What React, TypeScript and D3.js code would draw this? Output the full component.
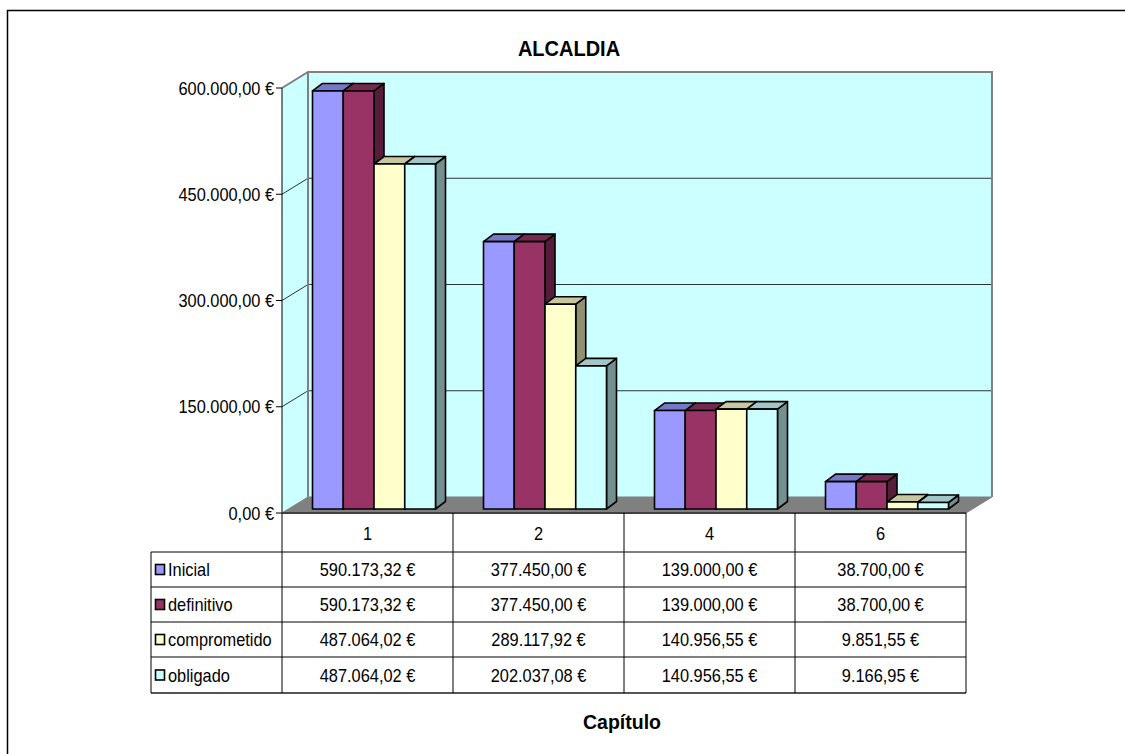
import React from "react";
import * as d3 from "d3";

const categories = ["1", "2", "4", "6"];
const seriesNames = ["Inicial", "definitivo", "comprometido", "obligado"];
const inicial = [590173.32, 377450.0, 139000.0, 38700.0];
const definitivo = [590173.32, 377450.0, 139000.0, 38700.0];
const comprometido = [487064.02, 289117.92, 140956.55, 9851.55];
const obligado = [487064.02, 202037.08, 140956.55, 9166.95];
const seriesColors = ["#9999FF", "#993366", "#FFFFCC", "#CCFFFF"];
const yTicks = [0, 150000, 300000, 450000, 600000];

const allSeries = [inicial, definitivo, comprometido, obligado];

const locale = d3.formatLocale({
  decimal: ",",
  thousands: ".",
  grouping: [3],
  currency: ["", " €"],
});
const fmt = (v: number) => locale.format(",.2f")(v) + " €";

const FONT = "'Liberation Sans', Arial, sans-serif";

function T(props: {
  x: number;
  y: number;
  size: number;
  sx?: number;
  anchor?: "start" | "middle" | "end";
  bold?: boolean;
  children: React.ReactNode;
}) {
  const sx = props.sx ?? 0.91;
  return (
    <text
      transform={`translate(${props.x},${props.y}) scale(${sx},1)`}
      textAnchor={props.anchor ?? "start"}
      fontSize={props.size}
      fontWeight={props.bold ? "bold" : "normal"}
      fill="#000"
    >
      {props.children}
    </text>
  );
}

export default function App() {
  const W = 1125;
  const H = 754;
  const x = d3.scaleBand().domain(categories).range([282, 966]);
  const y = d3.scaleLinear().domain([0, 600000]).range([513, 88]);
  const bw = x.bandwidth();
  const inner = d3.scaleBand().domain(seriesNames).range([24, bw - 24]);
  const WDX = 26;
  const WDY = 16;
  const FX = 6.5;
  const FY = 4;
  const BDX = 10;
  const BDY = 7.5;

  const x0 = 282;
  const x1 = 966;
  const yBase = y(0);
  const yTop = y(600000);

  const bars: React.ReactNode[] = [];
  categories.forEach((cat, ci) => {
    seriesNames.forEach((s, si) => {
      const v = allSeries[si][ci];
      const bx0 = (x(cat) as number) + (inner(s) as number) + FX;
      const bx1 = bx0 + inner.bandwidth();
      const top = y(v) - FY;
      const bot = yBase - FY;
      const c = d3.color(seriesColors[si])!;
      const topC = c.darker(0.7).formatHex();
      const sideC = c.darker(1.6).formatHex();
      bars.push(
        <g key={cat + s} stroke="#000" strokeWidth={1.6} strokeLinejoin="round">
          <polygon
            points={`${bx1},${top} ${bx1 + BDX},${top - BDY} ${bx1 + BDX},${bot - BDY} ${bx1},${bot}`}
            fill={sideC}
          />
          <polygon
            points={`${bx0},${top} ${bx0 + BDX},${top - BDY} ${bx1 + BDX},${top - BDY} ${bx1},${top}`}
            fill={topC}
          />
          <rect x={bx0} y={top} width={bx1 - bx0} height={bot - top} fill={seriesColors[si]} />
        </g>
      );
    });
  });

  const rowLines = [552, 587, 622, 657, 693];
  const rowCenters = rowLines.slice(0, 4).map((v, i) => (v + rowLines[i + 1]) / 2);
  const colEdges = [...categories.map((c) => x(c) as number), x1];

  return (
    <svg
      width={W}
      height={H}
      style={{ position: "absolute", left: 0, top: 0, background: "#fff" }}
      fontFamily={FONT}
    >
      <path d={`M7.5,${H} L7.5,10.5 L${W},10.5`} fill="none" stroke="#000" strokeWidth={1.5} />

      <T x={569} y={56} size={21.5} sx={0.93} anchor="middle" bold>
        ALCALDIA
      </T>

      <polygon
        points={`${x0},${yTop} ${x0 + WDX},${yTop - WDY} ${x0 + WDX},${yBase - WDY} ${x0},${yBase}`}
        fill="#CCFFFF"
      />
      <rect x={x0 + WDX} y={yTop - WDY} width={x1 - x0} height={yBase - yTop} fill="#CCFFFF" />
      {yTicks.slice(1, 4).map((t) => (
        <g key={"g" + t} stroke="#000" strokeWidth={0.8} fill="none">
          <line x1={x0} y1={y(t)} x2={x0 + WDX} y2={y(t) - WDY} />
          <line x1={x0 + WDX} y1={y(t) - WDY} x2={x1 + WDX} y2={y(t) - WDY} />
        </g>
      ))}
      <path
        d={`M${x0},${yTop} L${x0 + WDX},${yTop - WDY} L${x1 + WDX},${yTop - WDY} L${x1 + WDX},${yBase - WDY} M${x0 + WDX},${yTop - WDY} L${x0 + WDX},${yBase - WDY}`}
        fill="none"
        stroke="#808080"
        strokeWidth={2}
      />
      <polygon
        points={`${x0},${yBase} ${x0 + WDX},${yBase - WDY} ${x1 + WDX},${yBase - WDY} ${x1},${yBase}`}
        fill="#808080"
        stroke="#808080"
        strokeWidth={1}
      />

      {bars}

      <line x1={x0} y1={yTop} x2={x0} y2={yBase} stroke="#000" strokeWidth={1} />
      {yTicks.map((t) => (
        <g key={"t" + t}>
          <line x1={x0 - 6} y1={y(t)} x2={x0} y2={y(t)} stroke="#000" strokeWidth={1} />
          <T x={274} y={y(t) + 6.5} size={18} anchor="end">
            {fmt(t)}
          </T>
        </g>
      ))}

      <g stroke="#000" strokeWidth={1}>
        <line x1={x0} y1={yBase} x2={x1} y2={yBase} strokeWidth={2} stroke="#404040" />
        {rowLines.map((ry, i) => (
          <line
            key={"r" + ry}
            x1={151}
            y1={ry}
            x2={x1}
            y2={ry}
            stroke={i === rowLines.length - 1 ? "#555" : "#000"}
            strokeWidth={i === rowLines.length - 1 ? 2 : 1}
          />
        ))}
        {colEdges.map((cx) => (
          <line key={"c" + cx} x1={cx} y1={yBase} x2={cx} y2={693} />
        ))}
        <line x1={151} y1={552} x2={151} y2={693} />
      </g>
      {categories.map((c) => (
        <T key={"h" + c} x={(x(c) as number) + bw / 2} y={540} size={18} anchor="middle">
          {c}
        </T>
      ))}
      {seriesNames.map((s, si) => (
        <g key={"row" + s}>
          <rect
            x={155.5}
            y={rowCenters[si] - 5}
            width={9}
            height={10}
            fill={seriesColors[si]}
            stroke="#000"
            strokeWidth={1.6}
          />
          <T x={168} y={rowCenters[si] + 6.5} size={18}>
            {s}
          </T>
          {categories.map((c, ci) => (
            <T
              key={s + c}
              x={(x(c) as number) + bw / 2}
              y={rowCenters[si] + 6.5}
              size={18}
              anchor="middle"
            >
              {fmt(allSeries[si][ci])}
            </T>
          ))}
        </g>
      ))}

      <T x={622} y={729} size={21} sx={0.93} anchor="middle" bold>
        Capítulo
      </T>
    </svg>
  );
}
